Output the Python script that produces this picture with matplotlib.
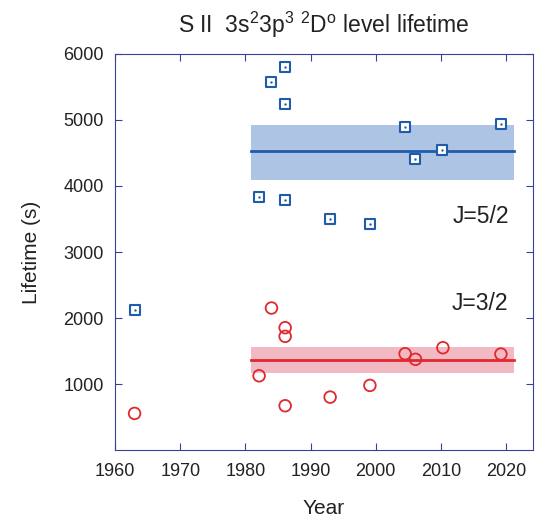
import numpy as np
import matplotlib.pyplot as plt

plt.rcParams['font.family'] = ['Liberation Sans', 'DejaVu Sans']
plt.rcParams['mathtext.fontset'] = 'custom'
plt.rcParams['mathtext.rm'] = 'Liberation Sans'
plt.rcParams['mathtext.it'] = 'Liberation Sans'

# J=5/2 measurements
year_52 = [1963.0, 1982.1, 1984.0, 1986.1, 1986.1, 1986.1, 1993.0, 1999.1, 2004.5, 2006.0, 2010.1, 2019.2]
life_52 = [2117, 3840, 5568, 5795, 5245, 3780, 3502, 3421, 4886, 4411, 4548, 4942]

# J=3/2 measurements
year_32 = [1963.0, 1982.1, 1984.0, 1986.1, 1986.1, 1986.1, 1993.0, 1999.1, 2004.5, 2006.1, 2010.3, 2019.2]
life_32 = [556, 1126, 2152, 1854, 1723, 672, 803, 980, 1460, 1375, 1551, 1455]

# recommended values with uncertainty bands
band_years = [1980.8, 2021.2]
mean_52, low_52, high_52 = 4522, 4097, 4926
mean_32, low_32, high_32 = 1359, 1172, 1561

blue = '#1f5cab'
red = '#e0282e'
axcol = '#3a3f9a'
txt = '#222222'

fig = plt.figure(figsize=(5.35, 5.18), dpi=100)
ax = fig.add_axes([0.215, 0.131, 0.781, 0.765])

ax.fill_between(band_years, low_52, high_52, color='#adc4e4', lw=0)
ax.plot(band_years, [mean_52, mean_52], color=blue, lw=2)
ax.fill_between(band_years, low_32, high_32, color='#f2b9c3', lw=0)
ax.plot(band_years, [mean_32, mean_32], color=red, lw=2)

ax.scatter(year_52, life_52, marker='s', s=60, facecolor='white', edgecolor=blue, linewidth=1.5, zorder=3)
ax.scatter(year_52, life_52, marker='.', s=2, color=blue, zorder=4)
ax.scatter(year_32, life_32, marker='o', s=70, facecolor='none', edgecolor=red, linewidth=1.3, zorder=3)

ax.text(2016.05, 3545, 'J=5/2', fontsize=16.5, ha='center', va='center', color=txt)
ax.text(2015.9, 2227, 'J=3/2', fontsize=16.5, ha='center', va='center', color=txt)

ax.set_xlim(1960, 2024.1)
ax.set_ylim(0, 6000)
ax.set_xticks([1960, 1970, 1980, 1990, 2000, 2010, 2020])
ax.set_yticks([1000, 2000, 3000, 4000, 5000, 6000])
ax.tick_params(direction='in', length=5, color=axcol, top=True, right=True,
               labelsize=13, labelcolor=txt)
ax.tick_params(axis='x', pad=9)
ax.tick_params(axis='y', pad=8)
for s in ax.spines.values():
    s.set_color(axcol)

ax.set_xlabel('Year', fontsize=15, color=txt, labelpad=14)
ax.set_ylabel('Lifetime (s)', fontsize=15, color=txt, labelpad=16)
ax.set_title(r'S II  3s$^2$3p$^3$ $^2$D$^\mathrm{o}$ level lifetime', fontsize=16.5, pad=15, color=txt)

fig.savefig('out.png', dpi=100)
